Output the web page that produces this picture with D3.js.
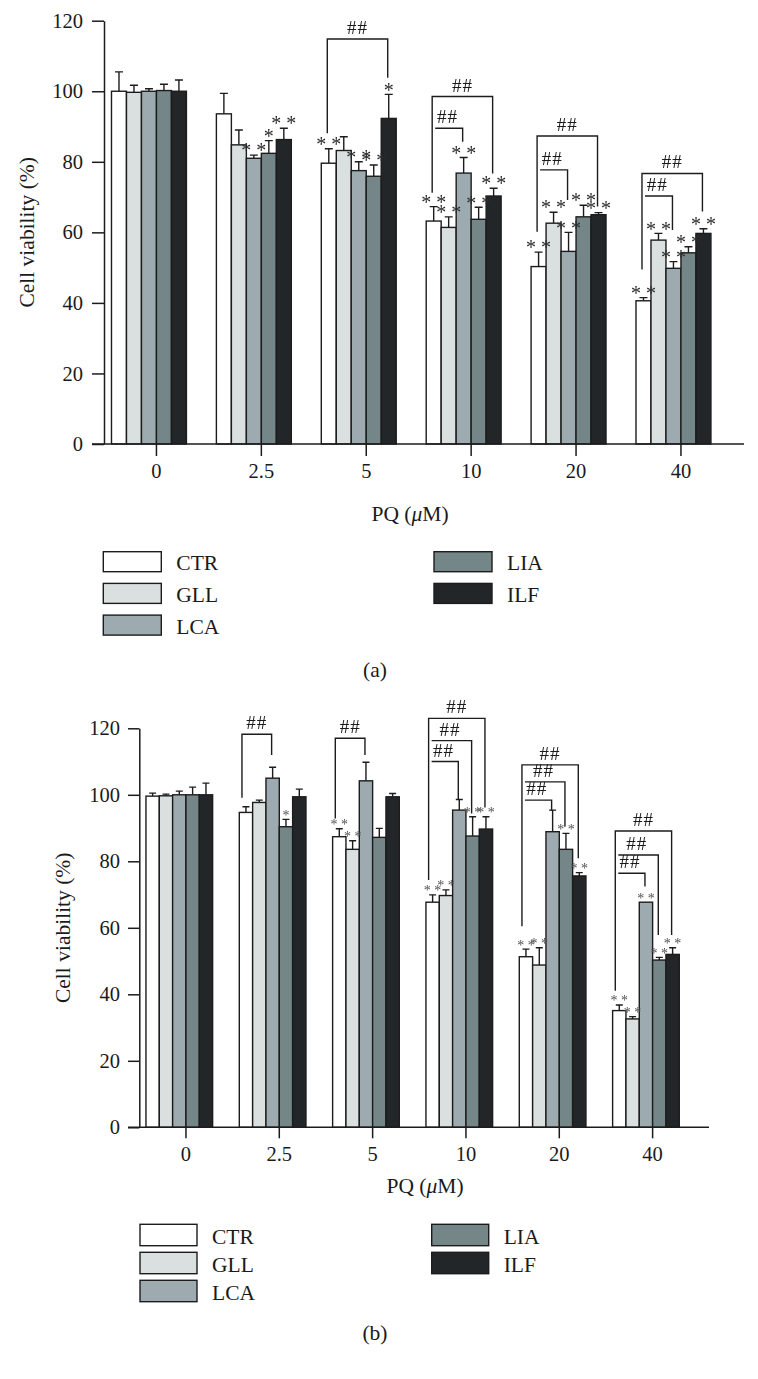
<!DOCTYPE html>
<html><head><meta charset="utf-8">
<script src="https://cdn.jsdelivr.net/npm/d3@7"></script>
<style>
body{margin:0;background:#fff;}
svg{display:block;}
text{font-family:"Liberation Serif","Times New Roman",serif;fill:#1a1a1a;}
</style>
</head><body>
<svg id="chart" width="758" height="1379">
  <defs>
    <filter id="gray" x="-10%" y="-10%" width="120%" height="120%">
      <feColorMatrix type="saturate" values="0"/>
    </filter>
  </defs>
</svg>
<script>
// ---------- DATA ----------
const categories = ["0", "2.5", "5", "10", "20", "40"];
const series = ["CTR", "GLL", "LCA", "LIA", "ILF"];
const yTicks = [0, 20, 40, 60, 80, 100, 120];

// Panel (a): mean values per series (rows) x PQ concentration (columns)
const meansA = [
  [100.0, 93.6, 79.6, 63.2, 50.3, 40.6],   // CTR
  [99.7, 84.8, 83.2, 61.4, 62.6, 57.8],    // GLL
  [100.0, 81.0, 77.5, 76.8, 54.6, 49.8],   // LCA
  [100.2, 82.4, 75.9, 63.7, 64.4, 54.2],   // LIA
  [100.0, 86.3, 92.3, 70.3, 65.0, 59.7]    // ILF
];
const errorsA = [
  [5.5, 5.8, 4.1, 4.1, 4.1, 0.9],
  [2.0, 4.2, 3.9, 3.0, 3.1, 1.9],
  [0.7, 0.9, 2.5, 4.4, 5.4, 1.9],
  [1.8, 3.6, 3.2, 3.4, 3.3, 1.7],
  [3.2, 3.2, 6.8, 2.2, 0.6, 1.3]
];
// Panel (b)
const meansB = [
  [99.6, 94.7, 87.4, 67.7, 51.3, 35.1],
  [99.7, 97.7, 83.6, 69.7, 48.8, 32.6],
  [100.0, 105.0, 104.2, 95.4, 88.9, 67.7],
  [100.0, 90.4, 87.2, 87.6, 83.6, 50.3],
  [100.0, 99.4, 99.4, 89.7, 75.6, 52.0]
];
const errorsB = [
  [0.9, 1.7, 2.4, 2.2, 2.3, 1.7],
  [0.5, 0.7, 2.6, 1.7, 5.2, 0.7],
  [1.1, 3.3, 5.6, 3.2, 6.5, 0.0],
  [2.3, 2.2, 2.7, 5.8, 4.8, 0.8],
  [3.5, 2.3, 1.0, 3.7, 1.0, 2.0]
];

// significance marks: [category, series index, text]
const starsA = [
  ["2.5", 2, "* *"], ["2.5", 3, "*"], ["2.5", 4, "* *"],
  ["5", 0, "* *"], ["5", 2, "* *"], ["5", 3, "* *"], ["5", 4, "*"],
  ["10", 0, "* *"], ["10", 1, "* *"], ["10", 2, "* *"], ["10", 3, "* *"], ["10", 4, "* *"],
  ["20", 0, "* *"], ["20", 1, "* *"], ["20", 2, "* *"], ["20", 3, "* *"], ["20", 4, "* *"],
  ["40", 0, "* *"], ["40", 1, "* *"], ["40", 2, "* *"], ["40", 3, "* *"], ["40", 4, "* *"]
];
const starsB = [
  ["2.5", 3, "*"],
  ["5", 0, "* *"], ["5", 1, "* *"],
  ["10", 0, "* *"], ["10", 1, "* *"], ["10", 3, "* *"], ["10", 4, "* *"],
  ["20", 0, "* *"], ["20", 1, "* *"], ["20", 3, "* *"], ["20", 4, "* *"],
  ["40", 0, "* *"], ["40", 1, "* *"], ["40", 2, "* *"], ["40", 3, "* *"], ["40", 4, "* *"]
];
// "##" brackets: [category, from series, to series, bracket level, left leg end (null = none), right leg end] (y values)
const bracketsA = [
  ["5", 0, 4, 114.8, 88.1, 103.8],
  ["10", 0, 4, 98.5, 71.2, 76.7],
  ["10", 0, 2, 89.5, null, 85.7],
  ["20", 0, 4, 87.3, 60.2, 67.3],
  ["20", 0, 2, 77.7, null, 69.2],
  ["40", 0, 4, 76.7, 49.5, 65.9],
  ["40", 0, 2, 70.3, null, 60.7]
];
const bracketsB = [
  ["2.5", 0, 2, 118.2, 99.1, 112.0],
  ["5", 0, 2, 117.0, 92.9, 112.0],
  ["10", 0, 4, 123.0, 74.4, 96.2],
  ["10", 0, 3, 116.3, null, 94.4],
  ["10", 0, 2, 110.0, null, 98.6],
  ["20", 0, 4, 109.0, 60.5, 80.9],
  ["20", 0, 3, 103.9, null, 90.4],
  ["20", 0, 2, 98.4, null, 95.2],
  ["40", 0, 4, 89.1, 41.1, 57.8],
  ["40", 0, 3, 81.9, null, 57.8],
  ["40", 0, 2, 76.4, null, 72.4]
];

// ---------- STYLE / LAYOUT ----------
const fills = ["#ffffff", "#d9e0df", "#9dabb1", "#758688", "#222628"];
const ink = "#1c1c1c";
const serif = '"Liberation Serif","Times New Roman",serif';

const layoutA = {
  left: 104, right: 744, top: 20.7, bottom: 444, step: 104.9,
  tickY: 12, padY: 9, tickX: 12, padX: 7,
  titleX: 26, pqX: 410, pqY: 521,
  legY: 551.7, legRow: 31.7, legX1: 103.3, legX2: 434, boxW: 58, boxH: 20,
  capX: 375, capY: 676.5, caption: "(a)",
  starSize: 20, starColor: "#2a2a2a", starGap: 7, capW: 8, bracketFrac: 0.4,
  hashSize: 19, tickFont: 20.5, labelFont: 21.5
};
const layoutB = {
  left: 139.3, right: 709, top: 728.3, bottom: 1127.3, step: 93.33,
  tickY: 11.3, padY: 8, tickX: 11, padX: 8,
  titleX: 62.5, pqX: 425, pqY: 1193,
  legY: 1224.3, legRow: 28, legX1: 140, legX2: 431.7, boxW: 57, boxH: 21.4,
  capX: 375, capY: 1340, caption: "(b)",
  starSize: 14, starColor: "#505050", starGap: 6, capW: 7, bracketFrac: 0.2,
  hashSize: 19, tickFont: 20.5, labelFont: 21.5
};

const svg = d3.select("#chart");

function drawPanel(L, means, errs, stars, brackets) {
  const g = svg.append("g");
  const y = d3.scaleLinear().domain([0, 120]).range([L.bottom, L.top]);
  const x0 = d3.scaleBand().domain(categories)
    .range([L.left, L.left + 6 * L.step]).paddingInner(1 / 7).paddingOuter(1 / 14);
  const x1 = d3.scaleBand().domain(d3.range(6)).range([0, x0.bandwidth()]);
  const bw = x1.bandwidth();
  const bx = (c, si) => x0(c) + x1(si);
  const bc = (c, si) => bx(c, si) + bw / 2;

  const data = [];
  categories.forEach((c, ci) => series.forEach((s, si) =>
    data.push({ c, si, v: means[si][ci], e: errs[si][ci] })));

  // error bars (upward only)
  const eg = g.append("g").attr("stroke", ink).attr("stroke-width", 1.4).attr("fill", "none");
  data.filter(d => d.e > 0).forEach(d => {
    const cx = bc(d.c, d.si);
    eg.append("path").attr("d",
      `M${cx},${y(d.v)}V${y(d.v + d.e)}M${cx - L.capW / 2},${y(d.v + d.e)}H${cx + L.capW / 2}`);
  });

  // bars
  g.append("g").selectAll("rect").data(data).join("rect")
    .attr("x", d => bx(d.c, d.si))
    .attr("y", d => y(d.v))
    .attr("width", bw)
    .attr("height", d => y(0) - y(d.v))
    .attr("fill", d => fills[d.si])
    .attr("stroke", ink).attr("stroke-width", 1.4);

  // y axis
  const ya = g.append("g").attr("transform", `translate(${L.left},0)`)
    .call(d3.axisLeft(y).tickValues(yTicks).tickSize(L.tickY).tickSizeOuter(0).tickPadding(L.padY));
  ya.selectAll("path,line").attr("stroke", ink).attr("stroke-width", 1.5);
  ya.selectAll("text").attr("font-size", L.tickFont).attr("fill", ink).style("font-family", serif);

  // x axis
  const xa = g.append("g").attr("transform", `translate(0,${L.bottom})`)
    .call(d3.axisBottom(x0).tickSize(L.tickX).tickSizeOuter(0).tickPadding(L.padX));
  xa.select(".domain").remove();
  xa.selectAll("line").attr("stroke", ink).attr("stroke-width", 1.5);
  xa.selectAll("text").attr("font-size", L.tickFont).attr("fill", ink).style("font-family", serif);
  g.append("line").attr("x1", L.left - L.tickY).attr("x2", L.right)
    .attr("y1", L.bottom).attr("y2", L.bottom)
    .attr("stroke", ink).attr("stroke-width", 1.5);

  // y title
  g.append("text")
    .attr("transform", `translate(${L.titleX},${(L.top + L.bottom) / 2}) rotate(-90)`)
    .attr("text-anchor", "middle").attr("dy", "0.35em")
    .attr("font-size", L.labelFont).text("Cell viability (%)");

  // x title
  const xt = g.append("text").attr("x", L.pqX).attr("y", L.pqY)
    .attr("text-anchor", "middle").attr("font-size", L.labelFont);
  xt.append("tspan").text("PQ (");
  xt.append("tspan").attr("font-style", "italic").text("\u03bc");
  xt.append("tspan").text("M)");

  // stars
  g.append("g").attr("filter", "url(#gray)").selectAll("text").data(stars).join("text")
    .attr("x", d => bc(d[0], d[1]))
    .attr("y", d => {
      const ci = categories.indexOf(d[0]);
      const top = means[d[1]][ci] + errs[d[1]][ci];
      return y(top) - L.starGap + L.starSize * 0.46;
    })
    .attr("text-anchor", "middle")
    .attr("font-size", L.starSize)
    .style("fill", L.starColor)
    .text(d => d[2]);

  // brackets
  const bg = g.append("g").attr("filter", "url(#gray)");
  brackets.forEach(b => {
    const [c, from, to, lvl, lEnd, rEnd] = b;
    const xl = bx(c, from) + L.bracketFrac * bw;
    const xr = bc(c, to) - 1;
    let d;
    if (lEnd !== null) d = `M${xl},${y(lEnd)}V${y(lvl)}H${xr}V${y(rEnd)}`;
    else d = `M${xl + 3},${y(lvl)}H${xr}V${y(rEnd)}`;
    bg.append("path").attr("d", d).attr("fill", "none")
      .attr("stroke", ink).attr("stroke-width", 1.4);
    bg.append("text").attr("x", (xl + xr) / 2).attr("y", y(lvl) - 5)
      .attr("text-anchor", "middle").attr("font-size", L.hashSize)
      .attr("letter-spacing", 1).text("##");
  });

  // legend
  const lg = g.append("g");
  series.forEach((s, si) => {
    const col = si < 3 ? 0 : 1;
    const row = si < 3 ? si : si - 3;
    const lx = col === 0 ? L.legX1 : L.legX2;
    const ly = L.legY + row * L.legRow;
    lg.append("rect").attr("x", lx).attr("y", ly).attr("width", L.boxW).attr("height", L.boxH)
      .attr("fill", fills[si]).attr("stroke", ink).attr("stroke-width", 1.4);
    lg.append("text").attr("x", lx + L.boxW + 15).attr("y", ly + L.boxH - 1.5)
      .attr("font-size", L.labelFont).text(s);
  });

  // caption
  g.append("text").attr("x", L.capX).attr("y", L.capY).attr("text-anchor", "middle")
    .attr("font-size", L.labelFont).text(L.caption);
}

drawPanel(layoutA, meansA, errorsA, starsA, bracketsA);
drawPanel(layoutB, meansB, errorsB, starsB, bracketsB);
</script>
</body></html>
